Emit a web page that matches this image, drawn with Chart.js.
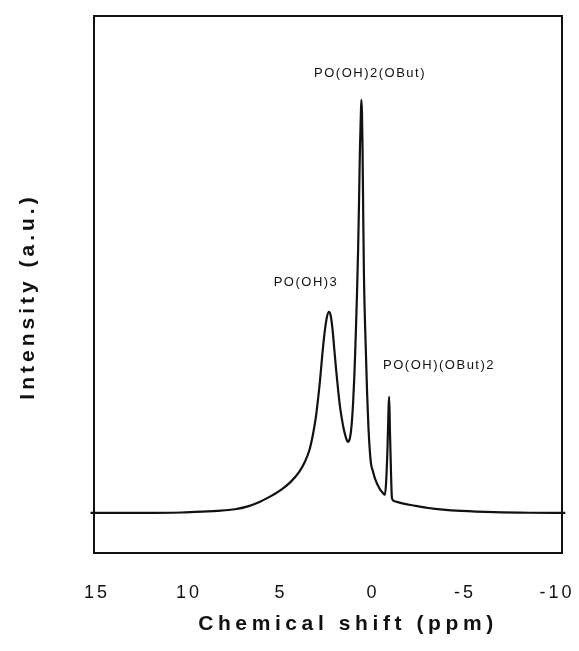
<!DOCTYPE html>
<html>
<head>
<meta charset="utf-8">
<script src="https://cdn.jsdelivr.net/npm/chart.js@4"></script>
<style>
  html, body { margin: 0; padding: 0; background: #fff; }
  #wrap { width: 579px; height: 651px; }
</style>
</head>
<body>
<div id="wrap"><canvas id="spectrum"></canvas></div>
<script>
// 31P spectrum, ppm descending (axis runs 15 -> -10)
const shiftPpm = [
  15.35, 12.5, 10.4, 9.3, 8.5, 7.5, 6.8, 6.2, 5.7, 5.0,
  4.5, 4.0, 3.7, 3.45, 3.25, 3.1, 2.99, 2.88, 2.75, 2.62,
  2.5, 2.39, 2.3, 2.2, 2.1, 2.0, 1.9, 1.8, 1.7, 1.6,
  1.5, 1.42, 1.35, 1.27, 1.2, 1.14, 1.08, 1.02, 0.97, 0.92,
  0.87, 0.81, 0.76, 0.71, 0.66, 0.63, 0.6, 0.57, 0.53, 0.49,
  0.44, 0.38, 0.32, 0.25, 0.18, 0.11, 0.0, -0.11, -0.33, -0.54,
  -0.65, -0.72, -0.79, -0.85, -0.88, -0.92, -0.98, -1.03, -1.14, -1.6,
  -2.2, -3.0, -3.8, -4.8, -6.6, -8.5, -10.45
];
const intensity = [
  0, 0, 0.1, 0.3, 0.5, 0.9, 1.6, 2.6, 3.7, 5.6,
  7.4, 10.0, 12.4, 15.3, 19.3, 23.3, 27.4, 32, 38.5, 44,
  47.5, 48.7, 47.8, 44.5, 39.5, 34.5, 30, 26, 23, 20.5,
  18.7, 17.6, 17.2, 17.8, 19.6, 22.5, 26.8, 32.5, 38.5, 45.5,
  53, 63.5, 75, 88, 96.5, 100, 97, 89, 72, 57,
  47, 38, 29, 21, 15.5, 12, 10, 8.3, 6.1, 4.8,
  4.4, 8, 16, 26, 28.1, 20, 9.5, 3.6, 2.9, 2.3,
  1.8, 1.2, 0.8, 0.5, 0.2, 0.05, 0
];
const xTicks = [15, 10, 5, 0, -5, -10];

const peakNames = ['PO(OH)3', 'PO(OH)2(OBut)', 'PO(OH)(OBut)2'];
const peakLabelPpm = [3.64, 0.16, -3.59];
const peakLabelInt = [55.7, 106.3, 35.8];

const ink = '#111';

const frameAndText = {
  id: 'frameAndText',
  beforeDraw(chart) {
    // wide tracking like the original typeset tick labels
    chart.ctx.letterSpacing = '3px';
  },
  beforeDatasetsDraw(chart) {
    const { ctx, chartArea: a } = chart;
    ctx.save();
    ctx.strokeStyle = ink;
    ctx.lineWidth = 2;
    ctx.strokeRect(a.left, a.top, a.right - a.left, a.bottom - a.top);
    ctx.restore();
  },
  afterDraw(chart) {
    const { ctx, chartArea: a, scales: { x, y } } = chart;
    ctx.save();
    ctx.fillStyle = ink;
    ctx.textAlign = 'center';
    ctx.textBaseline = 'middle';

    ctx.font = '13px "Liberation Sans"';
    ctx.letterSpacing = '1.5px';
    peakNames.forEach((name, i) => {
      ctx.fillText(name, x.getPixelForValue(peakLabelPpm[i]), y.getPixelForValue(peakLabelInt[i]));
    });

    ctx.font = 'bold 21px "Liberation Sans"';
    ctx.letterSpacing = '4.6px';
    ctx.fillText('Chemical shift (ppm)', (a.left + a.right) / 2 + 20, a.bottom + 71);

    ctx.letterSpacing = '4px';
    ctx.translate(28, (a.top + a.bottom) / 2 + 12);
    ctx.rotate(-Math.PI / 2);
    ctx.fillText('Intensity (a.u.)', 0, 0);
    ctx.restore();
  }
};

new Chart(document.getElementById('spectrum'), {
  type: 'line',
  data: {
    datasets: [{
      data: shiftPpm.map((v, i) => ({ x: v, y: intensity[i] })),
      borderColor: ink,
      borderWidth: 2.2,
      pointRadius: 0,
      cubicInterpolationMode: 'monotone',
      fill: false,
      clip: false
    }]
  },
  options: {
    responsive: true,
    maintainAspectRatio: false,
    animation: false,
    layout: {
      padding: { left: 94, right: 17, top: 16, bottom: 0 }
    },
    plugins: {
      legend: { display: false },
      tooltip: { enabled: false }
    },
    scales: {
      x: {
        type: 'linear',
        reverse: true,
        min: -10.27,
        max: 15.16,
        afterBuildTicks: scale => {
          scale.ticks = xTicks.map(v => ({ value: v }));
        },
        afterFit: scale => {
          // keep the frame where the original has it, labels may overhang
          scale.height = 98;
          scale.paddingLeft = 0;
          scale.paddingRight = 0;
        },
        grid: { display: false, drawTicks: false },
        border: { display: false },
        ticks: {
          color: ink,
          padding: 29,
          maxRotation: 0,
          autoSkip: false,
          font: { family: 'Liberation Sans', size: 18 }
        }
      },
      y: {
        display: false,
        min: -9.7,
        max: 120.3
      }
    }
  },
  plugins: [frameAndText]
});
</script>
</body>
</html>
